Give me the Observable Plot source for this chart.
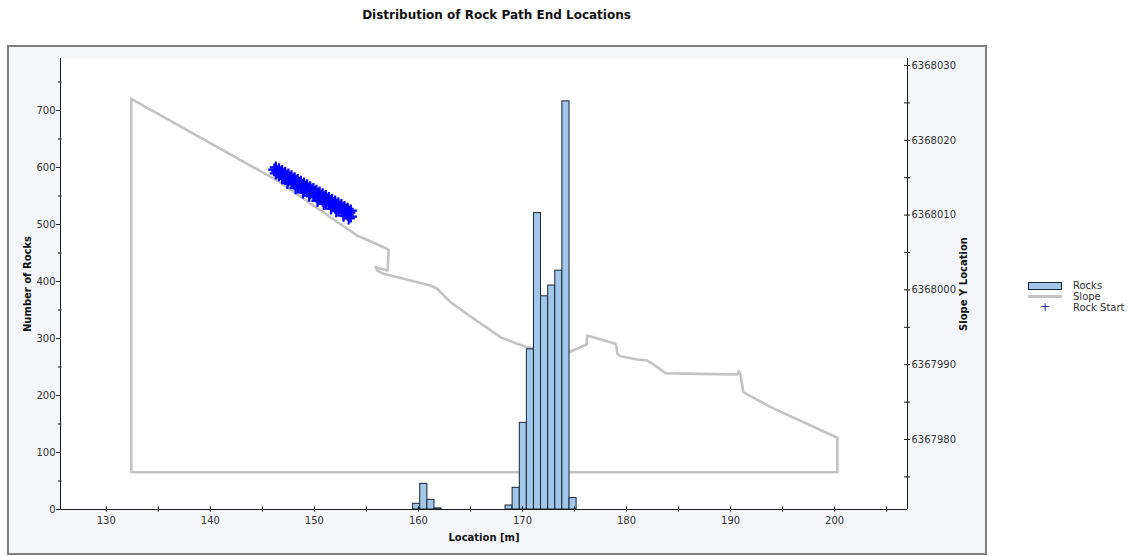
<!DOCTYPE html>
<html>
<head>
<meta charset="utf-8">
<script src="https://cdn.jsdelivr.net/npm/d3@7"></script>
<script src="https://cdn.jsdelivr.net/npm/@observablehq/plot@0.6"></script>
<style>
  html, body { margin: 0; padding: 0; background: #ffffff; }
  #wrap { position: relative; width: 1130px; height: 556px; overflow: hidden; font-family: "DejaVu Sans", Verdana, sans-serif; color: #222; }
  #panel { position: absolute; left: 7px; top: 45px; width: 976px; height: 506px; background: #f4f6fa; border: 2px solid #7f7f7f; }
  #title { position: absolute; left: 0; width: 993px; top: 8px; text-align: center; font-weight: bold; font-size: 12px; color: #111; }
  .layer { position: absolute; left: 0; top: 0; }
  .leg { position: absolute; font-size: 10px; color: #333; line-height: 11px; }
</style>
</head>
<body>
<div id="wrap">
  <div id="panel"></div>
  <div id="title">Distribution of Rock Path End Locations</div>
  <div id="layerA" class="layer"></div>
  <div id="layerB" class="layer"></div>
  <div id="legend"></div>
</div>
<script>
// ---------------- DATA ----------------
// Histogram bins (Location [m]) and counts
const binLo = [159.49, 160.17, 160.86, 161.54, 168.37, 169.05, 169.74, 170.42, 171.10, 171.78, 172.47, 173.15, 173.83, 174.52];
const binHi = [160.17, 160.86, 161.54, 162.22, 169.05, 169.74, 170.42, 171.10, 171.78, 172.47, 173.15, 173.83, 174.52, 175.20];
const counts = [10, 45, 17, 2, 7, 38, 152, 281, 520, 374, 393, 419, 716, 20];

// Slope profile (Location [m], Slope Y Location)
const slopeX = [132.40, 132.40, 146.41, 151.54, 154.11, 156.66, 157.14, 157.05, 155.87, 156.03, 156.66, 161.15, 161.80, 163.08, 165.32, 167.88, 169.49, 170.45, 172.50, 174.45, 176.15, 176.22, 178.94, 179.04, 179.11, 179.42, 181.03, 181.99, 182.95, 183.75, 187.12, 190.64, 190.80, 190.96, 191.22, 193.85, 200.26, 200.26, 132.40];
const slopeY = [6367975.63, 6368025.55, 6368014.63, 6368009.72, 6368007.27, 6368005.71, 6368005.36, 6368002.59, 6368003.03, 6368002.59, 6368002.15, 6368000.59, 6368000.15, 6367998.36, 6367996.14, 6367993.68, 6367992.79, 6367992.34, 6367991.90, 6367991.67, 6367992.70, 6367993.90, 6367992.79, 6367992.34, 6367991.46, 6367991.14, 6367990.70, 6367990.56, 6367989.67, 6367988.86, 6367988.78, 6367988.69, 6367989.13, 6367988.56, 6367986.32, 6367984.32, 6367980.23, 6367975.63, 6367975.63];

// Rock start locations
const rockStartX = [
  146.3, 146.6, 146.9, 147.2, 147.5, 147.8, 148.1, 148.4, 148.7, 149.0, 149.3, 149.6, 149.9, 150.2, 150.5, 150.8, 151.1, 151.4, 151.7, 152.0, 152.3, 152.6, 152.9, 153.2, 153.5,
  146.15, 146.45, 146.75, 147.05, 147.35, 147.65, 147.95, 148.25, 148.55, 148.85, 149.15, 149.45, 149.75, 150.05, 150.35, 150.65, 150.95, 151.25, 151.55, 151.85, 152.15, 152.45, 152.75, 153.05, 153.35,
  146.3, 146.6, 146.9, 147.2, 147.5, 147.8, 148.1, 148.4, 148.7, 149.0, 149.3, 149.6, 149.9, 150.2, 150.5, 150.8, 151.1, 151.4, 151.7, 152.0, 152.3, 152.6, 152.9, 153.2, 153.5,
  147.4, 148.2, 148.9, 149.5, 150.3, 150.9, 151.6, 152.1, 152.8, 153.3
];
const rockStartY = [
  6368016.37, 6368016.13, 6368015.89, 6368015.65, 6368015.41, 6368015.17, 6368014.93, 6368014.69, 6368014.45, 6368014.21, 6368013.97, 6368013.73, 6368013.49, 6368013.25, 6368013.01, 6368012.77, 6368012.53, 6368012.29, 6368012.05, 6368011.81, 6368011.57, 6368011.33, 6368011.09, 6368010.85, 6368010.61,
  6368016.09, 6368015.85, 6368015.61, 6368015.37, 6368015.13, 6368014.89, 6368014.65, 6368014.41, 6368014.17, 6368013.93, 6368013.69, 6368013.45, 6368013.21, 6368012.97, 6368012.73, 6368012.49, 6368012.25, 6368012.01, 6368011.77, 6368011.53, 6368011.29, 6368011.05, 6368010.81, 6368010.57, 6368010.33,
  6368015.57, 6368015.33, 6368015.09, 6368014.85, 6368014.61, 6368014.37, 6368014.13, 6368013.89, 6368013.65, 6368013.41, 6368013.17, 6368012.93, 6368012.69, 6368012.45, 6368012.21, 6368011.97, 6368011.73, 6368011.49, 6368011.25, 6368011.01, 6368010.77, 6368010.53, 6368010.29, 6368010.05, 6368009.81,
  6368014.29, 6368013.60, 6368013.04, 6368012.61, 6368011.90, 6368011.49, 6368010.88, 6368010.53, 6368009.92, 6368009.57
];

// Axis ticks
const xTicks = [130, 140, 150, 160, 170, 180, 190, 200];
const xMinorTicks = [135, 145, 155, 165, 175, 185, 195, 205];
const countTicks = [0, 100, 200, 300, 400, 500, 600, 700];
const countMinorTicks = [50, 150, 250, 350, 450, 550, 650, 750];
const slopeTicks = [6367980, 6367990, 6368000, 6368010, 6368020, 6368030];
const slopeMinorTicks = [6367975, 6367985, 6367995, 6368005, 6368015, 6368025];

// Scale domains
const xDomain = [125.6, 207.0];
const countDomain = [0, 791.2];
const slopeDomain = [6367970.64, 6368030.94];

// ---------------- BUILD ----------------
const bars = binLo.map((lo, i) => ({lo, hi: binHi[i], count: counts[i]}));
const slope = slopeX.map((x, i) => ({x, y: slopeY[i]}));
const rocks = rockStartX.map((x, i) => ({x, y: rockStartY[i]}));

const W = 1130, H = 556;
const common = {
  width: W, height: H,
  marginTop: 58, marginBottom: 47, marginLeft: 60, marginRight: 223,
  style: {background: "transparent", fontFamily: "DejaVu Sans, Verdana, sans-serif", fontSize: "10px", color: "#333", overflow: "visible"}
};
const axisColor = "#1a1a1a";
const xSpanPx = 907 - 60;
const xUnitsPer3px = 3 * (xDomain[1] - xDomain[0]) / xSpanPx;
const cUnitsPer3px = 3 * (countDomain[1] - countDomain[0]) / (509 - 58);

// Layer A: slope profile, rock starts, right axis
const chartA = Plot.plot({
  ...common,
  x: {domain: xDomain, axis: null},
  y: {domain: slopeDomain, axis: null},
  marks: [
    Plot.frame({fill: "white", stroke: "none"}),
    Plot.line(slope, {x: "x", y: "y", stroke: "#c3c3c3", strokeWidth: 2.6, strokeLinejoin: "round"}),
    Plot.dot(rocks, {x: "x", y: "y", symbol: "plus", r: 4, stroke: "#0000ff", strokeWidth: 2.2}),
    Plot.ruleX([xDomain[1]], {stroke: axisColor}),
    Plot.ruleY(slopeTicks.concat(slopeMinorTicks), {y: d => d, x1: xDomain[1] - xUnitsPer3px, x2: xDomain[1] + xUnitsPer3px, stroke: axisColor}),
    Plot.axisY({anchor: "right", ticks: slopeTicks, tickSize: 0, tickPadding: 4, tickFormat: d => String(d), label: null}),
    Plot.text(["Slope Y Location"], {frameAnchor: "right", dx: 56, rotate: -90, textAnchor: "middle", lineAnchor: "middle", fontWeight: "bold", fill: "#111"})
  ]
});
document.getElementById("layerA").appendChild(chartA);

// Layer B: histogram bars, left and bottom axes
const chartB = Plot.plot({
  ...common,
  x: {domain: xDomain, axis: null},
  y: {domain: countDomain, axis: null},
  marks: [
    Plot.rect(bars, {x1: "lo", x2: "hi", y1: 0, y2: "count", fill: "#a3c7ea", stroke: "#1b2533", strokeWidth: 1}),
    Plot.ruleY([0], {stroke: axisColor}),
    Plot.ruleX([xDomain[0]], {stroke: axisColor}),
    Plot.ruleX(xTicks.concat(xMinorTicks), {x: d => d, y1: -cUnitsPer3px * 0.9, y2: cUnitsPer3px * 0.9, stroke: axisColor}),
    Plot.ruleY(countTicks, {y: d => d, x1: xDomain[0] - xUnitsPer3px * 1.3, x2: xDomain[0], stroke: axisColor}),
    Plot.ruleY(countMinorTicks, {y: d => d, x1: xDomain[0] - xUnitsPer3px * 0.7, x2: xDomain[0] + xUnitsPer3px * 0.5, stroke: axisColor}),
    Plot.axisY({anchor: "left", ticks: countTicks, tickSize: 0, tickPadding: 5, tickFormat: d => String(d), label: null}),
    Plot.axisX({anchor: "bottom", ticks: xTicks, tickSize: 0, tickPadding: 7, tickFormat: d => String(d), label: null}),
    Plot.text(["Number of Rocks"], {frameAnchor: "left", dx: -33, rotate: -90, textAnchor: "middle", lineAnchor: "middle", fontWeight: "bold", fill: "#111"}),
    Plot.text(["Location [m]"], {frameAnchor: "bottom", dy: 28, textAnchor: "middle", lineAnchor: "middle", fontWeight: "bold", fill: "#111"})
  ]
});
document.getElementById("layerB").appendChild(chartB);

// Legend
const legendItems = [
  {label: "Rocks", kind: "rect"},
  {label: "Slope", kind: "line"},
  {label: "Rock Start", kind: "plus"}
];
const leg = document.getElementById("legend");
legendItems.forEach((item, i) => {
  const cy = 285.5 + i * 11;
  const sw = document.createElement("div");
  sw.style.position = "absolute";
  if (item.kind === "rect") {
    Object.assign(sw.style, {left: "1028px", top: (cy - 4) + "px", width: "32px", height: "6px", background: "#a3c7ea", border: "1px solid #1b2533"});
  } else if (item.kind === "line") {
    Object.assign(sw.style, {left: "1028px", top: (cy - 1.5) + "px", width: "34px", height: "3px", background: "#c3c3c3"});
  } else {
    Object.assign(sw.style, {left: "1038px", top: (cy - 7) + "px", width: "14px", height: "13px", color: "#1d2fa8", fontSize: "12px", textAlign: "center", lineHeight: "13px"});
    sw.textContent = "+";
  }
  leg.appendChild(sw);
  const t = document.createElement("div");
  t.className = "leg";
  t.style.left = "1073px";
  t.style.top = (cy - 6) + "px";
  t.textContent = item.label;
  leg.appendChild(t);
});
</script>
</body>
</html>
